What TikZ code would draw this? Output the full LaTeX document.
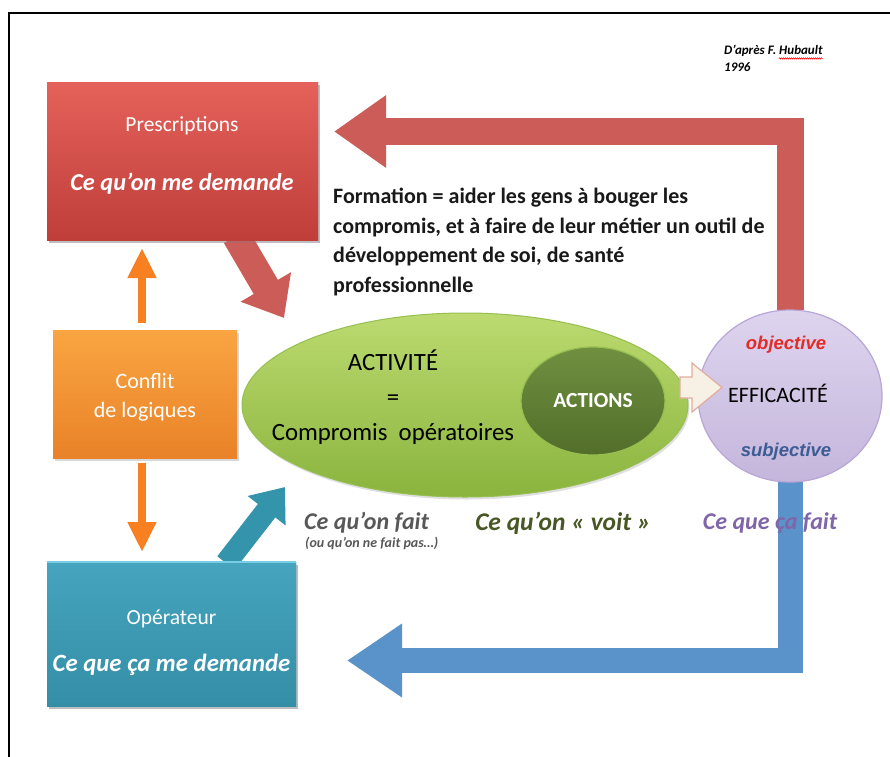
\documentclass[tikz,border=0pt]{standalone}
\usepackage{fontspec}
\setmainfont{Carlito}
\newfontfamily\arialf{Liberation Sans}
\usetikzlibrary{arrows.meta,shapes.geometric,shadows,calc,decorations.pathmorphing}
\definecolor{presTop}{RGB}{228,98,90}
\definecolor{presBot}{RGB}{192,62,58}
\definecolor{redArrow}{RGB}{204,92,88}
\definecolor{orTop}{RGB}{249,165,66}
\definecolor{orBot}{RGB}{233,130,40}
\definecolor{orArrow}{RGB}{246,128,34}
\definecolor{grTop}{RGB}{188,218,112}
\definecolor{grBot}{RGB}{138,180,62}
\definecolor{grEdge}{RGB}{150,190,80}
\definecolor{actTop}{RGB}{112,144,64}
\definecolor{actBot}{RGB}{82,110,42}
\definecolor{lavTop}{RGB}{222,212,238}
\definecolor{lavBot}{RGB}{196,182,220}
\definecolor{lavEdge}{RGB}{184,166,214}
\definecolor{blueArrow}{RGB}{90,146,202}
\definecolor{tealArrow}{RGB}{52,148,172}
\definecolor{opTop}{RGB}{70,164,190}
\definecolor{opBot}{RGB}{52,142,166}
\definecolor{opEdge}{RGB}{120,205,228}
\definecolor{beigeF}{RGB}{246,241,228}
\definecolor{beigeD}{RGB}{226,172,160}
\definecolor{grayT}{RGB}{88,88,88}
\definecolor{oliveT}{RGB}{72,88,36}
\definecolor{purpT}{RGB}{128,102,168}
\definecolor{objT}{RGB}{226,44,40}
\definecolor{subT}{RGB}{62,92,148}
\begin{document}
\begin{tikzpicture}[x=1pt,y=-1pt,
  boxsty/.style={rectangle, inner sep=0pt, shading=axis,
    drop shadow={shadow xshift=1.5pt, shadow yshift=-2.5pt, opacity=0.3}},
  wtext/.style={text=white, inner sep=0pt, align=center},
  btext/.style={inner sep=0pt, align=center},
  bigred/.style={draw=redArrow, line width=27pt, line join=miter,
    -{Triangle[length=52pt,width=69pt]}},
  bigblue/.style={draw=blueArrow, line width=25pt, line join=miter,
    -{Triangle[length=55pt,width=70pt]}},
  diagred/.style={draw=redArrow, line width=28pt,
    -{Triangle[length=36pt,width=56pt]}},
  diagteal/.style={draw=tealArrow, line width=22pt,
    -{Triangle[length=30pt,width=46pt]}},
  orarrow/.style={draw=orArrow, line width=8pt,
    -{Triangle[length=30pt,width=27pt]}}
]
\useasboundingbox (0,0) rectangle (890,756);
\fill[white] (0,0) rectangle (890,756);
% frame
\draw[line width=1.4pt] (9,770) -- (9,13) -- (900,13);

% main shapes (nodes)
\node[boxsty, top color=presTop, bottom color=presBot,
  minimum width=271pt, minimum height=158pt] (pres) at (182.5,161) {};
\node[boxsty, top color=orTop, bottom color=orBot,
  minimum width=184pt, minimum height=128pt] (conf) at (145,394) {};
\node[boxsty, top color=opTop, bottom color=opBot,
  minimum width=249pt, minimum height=144pt] (oper) at (171.5,634) {};

% coordinates for free arrow ends
\coordinate (redtip) at (334,131.5);
\coordinate (bluetip) at (347,660.5);
\coordinate (rdA) at (236,236);
\coordinate (rdB) at (284,318);
\coordinate (tlA) at (226,563);
\coordinate (tlB) at (285,487);
\coordinate (oupA) at (142,323);
\coordinate (oupB) at (142,248);
\coordinate (odnA) at (142,463);
\coordinate (odnB) at (142,552);

% efficacite ellipse (position)
\node[ellipse, inner sep=0pt, minimum width=184pt, minimum height=172pt] (eff) at (790,396) {};

% big return arrows (behind the ellipses)
\draw[bigred] (eff.north) |- (redtip);
\draw[bigblue] (eff.south) |- (bluetip);

% diagonal arrows
\draw[diagred] (rdA) -- (rdB);
\draw[diagteal] (tlA) -- (tlB);
% redraw boxes on top of arrow tails
\node[boxsty, top color=presTop, bottom color=presBot,
  minimum width=271pt, minimum height=158pt] at (pres) {};
\node[boxsty, top color=opTop, bottom color=opBot,
  minimum width=249pt, minimum height=144pt] at (oper) {};
\draw[opEdge, line width=2pt] (oper.north west) -- (oper.north east);

% orange arrows
\draw[orarrow] (oupA) -- (oupB);
\draw[orarrow] (odnA) -- (odnB);

% activity ellipse
\node[ellipse, inner sep=0pt, minimum width=446pt, minimum height=184pt,
  top color=grTop, bottom color=grBot, draw=grEdge, line width=1pt,
  drop shadow={shadow xshift=1.5pt, shadow yshift=-2.5pt, opacity=0.25}] (act) at (465,405) {};
\node[ellipse, inner sep=0pt, minimum width=144pt, minimum height=108pt,
  top color=actTop, bottom color=actBot, draw=grEdge, line width=1.2pt] (acts) at (593,401) {};
% efficacite ellipse (drawn)
\node[ellipse, inner sep=0pt, minimum width=184pt, minimum height=172pt,
  top color=lavTop, bottom color=lavBot, draw=lavEdge, line width=1.2pt] at (eff) {};

% beige arrow
\coordinate (bgA) at (680,387.5);
\filldraw[fill=beigeF, draw=beigeD, line width=1.2pt, line join=miter]
  (bgA) ++(0,-10.5) -- ++(12,0) -- ++(0,-14) -- (722,387.5) -- (692,412) -- ++(0,-14) -- ++(-12,0) -- cycle;

% texts
\node[btext, font=\bfseries\itshape\fontsize{13}{15}\selectfont, anchor=west] (ref1) at (724,51) {D’après F. Hubault};
\node[btext, font=\bfseries\itshape\fontsize{13}{15}\selectfont, anchor=west] (ref2) at (724,67) {1996};
\draw[red, line width=0.5pt, decorate, decoration={snake, amplitude=0.7pt, segment length=2pt}]
  ($(ref1.south east)+(-44,1.5)$) -- ($(ref1.south east)+(0,1.5)$);

\node[wtext, font=\fontsize{21.5}{25}\selectfont] (presT1) at (182,126) {Prescriptions};
\node[wtext, font=\bfseries\itshape\fontsize{24.3}{29}\selectfont] (presT2) at (182,184) {Ce qu’on me demande};

\node[btext, font=\bfseries\fontsize{22}{29.5}\selectfont, align=left, anchor=north west, text=black!90]
  (form) at (333,188) {Formation = aider les gens à bouger les\\compromis, et à faire de leur métier un outil de\\développement de soi, de santé\\professionnelle};

\node[wtext, font=\fontsize{22}{29}\selectfont] (confT) at (145,397.5) {Conflit\\de logiques};

\node[btext, font=\fontsize{24.8}{35}\selectfont] (actT) at (393,397) {ACTIVITÉ\\=\\Compromis~~opératoires};
\node[wtext, font=\bfseries\fontsize{21.5}{25}\selectfont] (actsT) at (acts) {ACTIONS};

\node[btext, font=\arialf\bfseries\itshape\fontsize{18.5}{22}\selectfont, text=objT] (objT) at (786,345) {objective};
\node[btext, font=\fontsize{22}{26}\selectfont] (effT) at (778,393) {EFFICACITÉ};
\node[btext, font=\arialf\bfseries\itshape\fontsize{18.5}{22}\selectfont, text=subT] (subT) at (786,452) {subjective};

\node[btext, font=\bfseries\itshape\fontsize{24}{28}\selectfont, text=grayT, anchor=west] (fait) at (304,523) {Ce qu’on fait};
\node[btext, font=\bfseries\itshape\fontsize{14}{16}\selectfont, text=grayT, anchor=west] (fait2) at (305,543) {(ou qu’on ne fait pas…)};
\node[btext, font=\bfseries\itshape\fontsize{25.5}{30}\selectfont, text=oliveT] (voit) at (563,523) {Ce qu’on « voit »};
\node[btext, font=\bfseries\itshape\fontsize{24}{28}\selectfont, text=purpT] (cfait) at (770,523) {Ce que ça fait};

\node[wtext, font=\fontsize{21.5}{25}\selectfont] (opT1) at (171.5,619) {Opérateur};
\node[wtext, font=\bfseries\itshape\fontsize{24.8}{29}\selectfont] (opT2) at (171.5,665) {Ce que ça me demande};
\end{tikzpicture}
\end{document}
